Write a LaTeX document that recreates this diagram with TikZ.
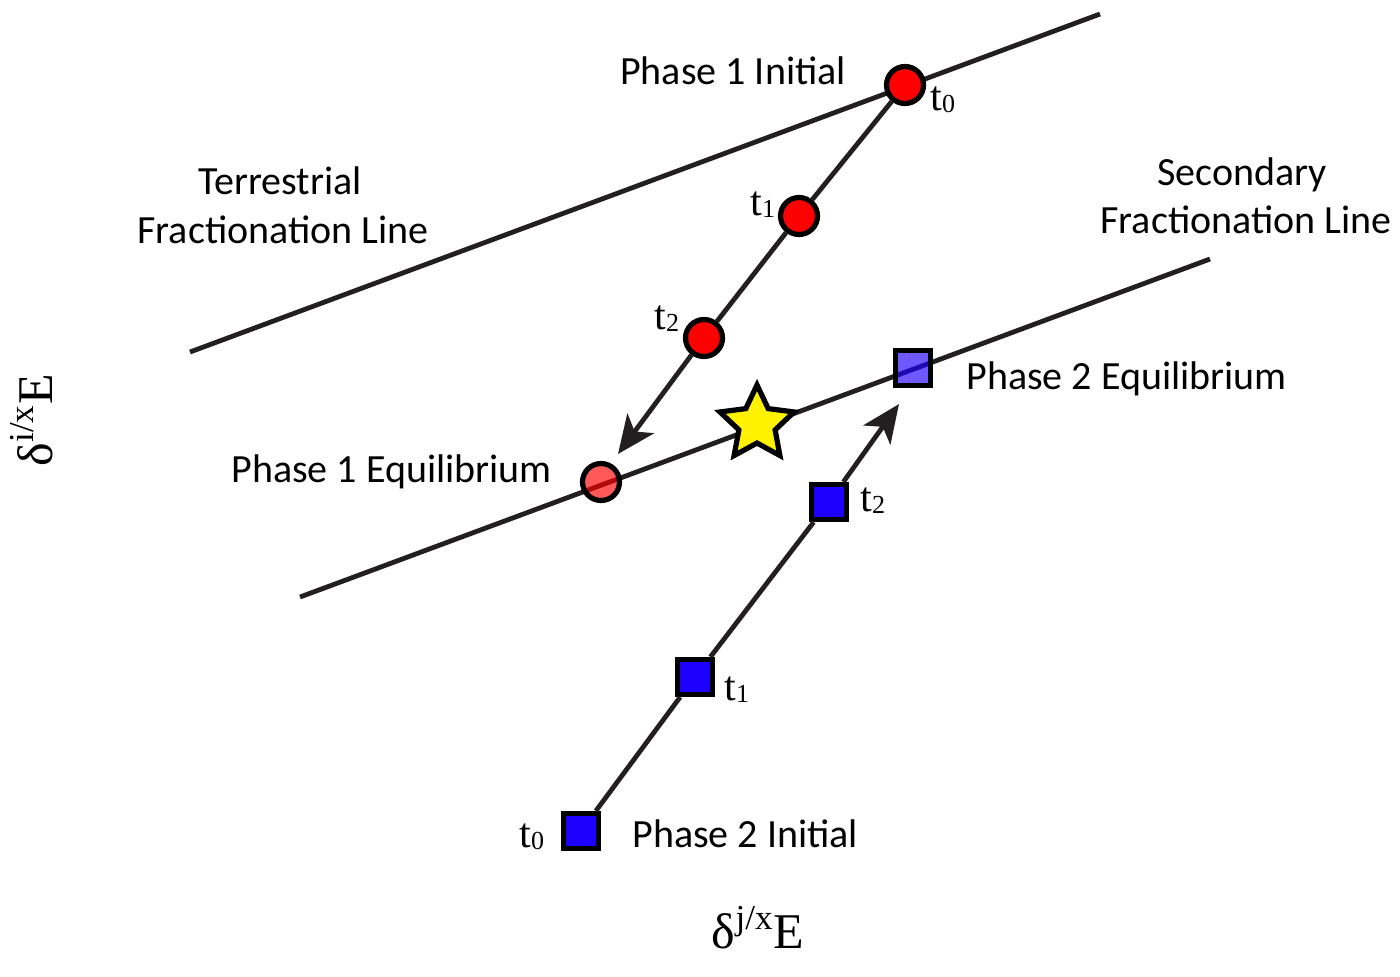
\documentclass[tikz,border=0pt]{standalone}
\usepackage{fontspec}
\setmainfont{Carlito}
\newfontfamily\serifx{Liberation Serif}
\usetikzlibrary{shapes.geometric,arrows.meta}
\definecolor{linegray}{RGB}{35,31,32}
\definecolor{sqblue}{RGB}{30,0,255}
\newcommand{\tlab}[1]{{\serifx\fontsize{21}{23}\selectfont t\raisebox{-1pt}{\fontsize{13}{14}\selectfont #1}}}
\begin{document}
\begin{tikzpicture}[x=0.5pt,y=-0.5pt,
  ln/.style={line width=2.4pt,draw=linegray},
  redc/.style={circle,draw=black,line width=2.6pt,fill=red,minimum size=18.5pt,inner sep=0pt},
  bsq/.style={rectangle,draw=black,line width=2.6pt,fill=sqblue,minimum size=17.5pt,inner sep=0pt},
  lab/.style={inner sep=0pt,font=\fontsize{20}{25}\selectfont},
  tl/.style={inner sep=0pt,anchor=base west},
  arr/.style={ln,-{Stealth[length=19pt,width=16.5pt,inset=5pt]}},
]
\useasboundingbox (0,0) rectangle (1400,976);
% fractionation lines
\coordinate (ta) at (190,352);
\coordinate (tb) at (1100,14);
\coordinate (sa) at (300,597);
\coordinate (sb) at (1210,259);
\draw[ln] (ta) -- (tb);
\draw[ln] (sa) -- (sb);
% star
\node[star,star points=5,star point ratio=2.05,draw=black,line width=2.6pt,fill=yellow,minimum size=39pt,inner sep=0pt] (st) at (757,424) {};
% phase 1 points
\node[redc] (r0) at (905,85) {};
\node[redc] (r1) at (799,216) {};
\node[redc] (r2) at (704,338) {};
\coordinate (rtip) at (618,454);
\node[redc,fill opacity=0.65] (req) at (601,482) {};
% phase 2 points
\node[bsq] (b0) at (581,831) {};
\node[bsq] (b1) at (695,677) {};
\node[bsq] (b2) at (829,502) {};
\coordinate (btip) at (899,404);
\node[bsq,fill opacity=0.65] (beq) at (913,368) {};
% connectors
\draw[ln] (r0) -- (r1);
\draw[ln] (r1) -- (r2);
\draw[arr] (r2) -- (rtip);
\draw[ln] (b0) -- (b1);
\draw[ln] (b1) -- (b2);
\draw[arr] (b2) -- (btip);
% labels
\node[lab,anchor=base] (lp1i) at (733,84) {Phase 1 Initial};
\node[lab,anchor=base] (lt1) at (280,194) {Terrestrial};
\node[lab,anchor=base] (lt2) at (283,243) {Fractionation Line};
\node[lab,anchor=base] (ls1) at (1242,185) {Secondary};
\node[lab,anchor=base] (ls2) at (1246,233) {Fractionation Line};
\node[lab,anchor=base west] (lp2e) at (966,389) {Phase 2 Equilibrium};
\node[lab,anchor=base west] (lp1e) at (231,482) {Phase 1 Equilibrium};
\node[lab,anchor=base west] (lp2i) at (632,847) {Phase 2 Initial};
% time labels
\node[tl] (tr0) at (930,110) {\tlab{0}};
\node[tl] (tr1) at (750,215) {\tlab{1}};
\node[tl] (tr2) at (654,329) {\tlab{2}};
\node[tl] (tb2) at (860,511) {\tlab{2}};
\node[tl] (tb1) at (724,700) {\tlab{1}};
\node[tl] (tb0) at (519,847) {\tlab{0}};
% axes labels
\node[inner sep=0pt,anchor=base] (xl) at (758,948) {\serifx\fontsize{25}{28}\selectfont δ\textsuperscript{j/x}E};
\node[inner sep=0pt,anchor=base,rotate=90] (yl) at (52,420) {\serifx\fontsize{25}{28}\selectfont δ\textsuperscript{i/x}E};
\end{tikzpicture}
\end{document}
